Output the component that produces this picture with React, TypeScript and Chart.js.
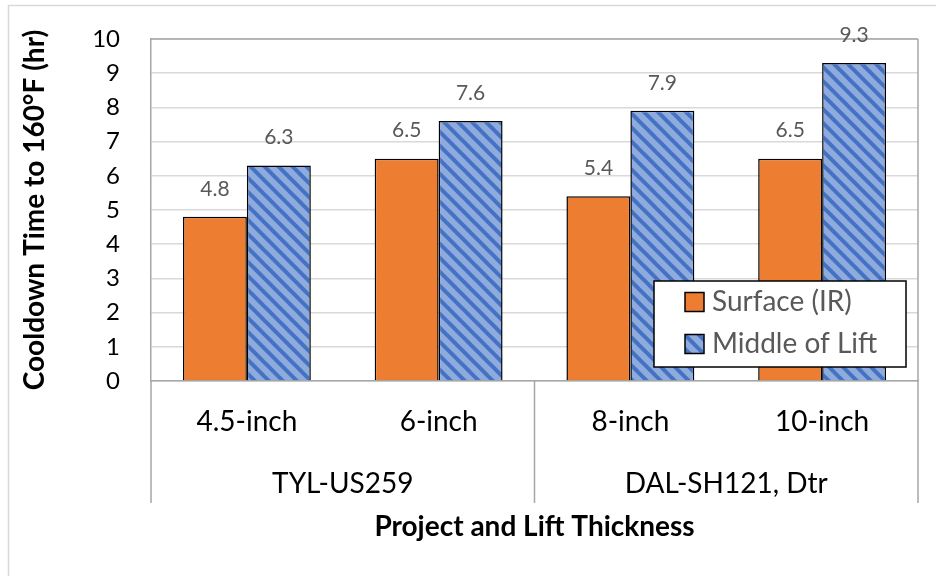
import React, { useEffect, useRef } from "react";
import { Chart, registerables } from "chart.js";

Chart.register(...registerables);

const categories = ["4.5-inch", "6-inch", "8-inch", "10-inch"];
const groups = ["TYL-US259", "DAL-SH121, Dtr"];
const groupSpans = [[0, 1], [2, 3]];
const surfaceValues = [4.8, 6.5, 5.4, 6.5];
const middleValues = [6.3, 7.6, 7.9, 9.3];
const seriesNames = ["Surface (IR)", "Middle of Lift"];
const yTicks = { min: 0, max: 10, step: 1 };

const FONT = "Lato, 'Open Sans', sans-serif";

function makeHatch(): CanvasPattern | string {
  const c = document.createElement("canvas");
  const p = 14;
  c.width = p;
  c.height = p;
  const g = c.getContext("2d");
  if (!g) return "#8FAADC";
  g.fillStyle = "#8FAADC";
  g.fillRect(0, 0, p, p);
  g.strokeStyle = "#4472C4";
  g.lineWidth = 4;
  for (let k = -1; k <= 1; k++) {
    g.beginPath();
    g.moveTo(-3, -3 + k * p);
    g.lineTo(p + 3, p + 3 + k * p);
    g.stroke();
  }
  const pat = g.createPattern(c, "repeat");
  return pat || "#8FAADC";
}

const decorPlugin = {
  id: "decor",
  beforeDraw(chart: any) {
    const ctx = chart.ctx;
    ctx.save();
    ctx.strokeStyle = "#d9d9d9";
    ctx.lineWidth = 1.5;
    ctx.beginPath();
    ctx.moveTo(8.5, 576);
    ctx.lineTo(8.5, 5.5);
    ctx.lineTo(936, 5.5);
    ctx.stroke();
    ctx.restore();
  },
  afterDraw(chart: any) {
    const ctx = chart.ctx;
    const { left, right, top, bottom } = chart.chartArea;
    const xs = chart.scales.x;
    const sepBottom = 503;
    ctx.save();
    ctx.strokeStyle = "#a6a6a6";
    ctx.lineWidth = 1.5;
    ctx.beginPath();
    ctx.moveTo(left, top);
    ctx.lineTo(right, top);
    ctx.moveTo(right, top);
    ctx.lineTo(right, sepBottom);
    ctx.moveTo(left, bottom);
    ctx.lineTo(left, sepBottom);
    for (let i = 0; i < groupSpans.length - 1; i++) {
      const a = xs.getPixelForValue(groupSpans[i][1]);
      const b = xs.getPixelForValue(groupSpans[i + 1][0]);
      const m = (a + b) / 2;
      ctx.moveTo(m, bottom);
      ctx.lineTo(m, sepBottom);
    }
    ctx.stroke();

    ctx.fillStyle = "#000";
    ctx.font = `28px ${FONT}`;
    ctx.textAlign = "center";
    ctx.textBaseline = "middle";
    groups.forEach((g, i) => {
      const a = xs.getPixelForValue(groupSpans[i][0]);
      const b = xs.getPixelForValue(groupSpans[i][1]);
      ctx.fillText(g, (a + b) / 2, 484);
    });

    ctx.fillStyle = "#595959";
    ctx.font = `21px ${FONT}`;
    chart.data.datasets.forEach((ds: any, di: number) => {
      const meta = chart.getDatasetMeta(di);
      meta.data.forEach((el: any, i: number) => {
        ctx.fillText(Number(ds.data[i]).toFixed(1), el.x, el.y - 28);
      });
    });

    const lx = 654, ly = 281, lw = 252, lh = 86;
    ctx.fillStyle = "#fff";
    ctx.fillRect(lx, ly, lw, lh);
    ctx.strokeStyle = "#000";
    ctx.lineWidth = 1.5;
    ctx.strokeRect(lx, ly, lw, lh);
    const rows = [302, 344];
    chart.data.datasets.forEach((ds: any, di: number) => {
      const cy = rows[di];
      ctx.fillStyle = ds.backgroundColor;
      ctx.fillRect(685, cy - 9.5, 19, 19);
      ctx.strokeStyle = "#000";
      ctx.lineWidth = 1.5;
      ctx.strokeRect(685, cy - 9.5, 19, 19);
      ctx.fillStyle = "#595959";
      ctx.font = `28px ${FONT}`;
      ctx.textAlign = "left";
      ctx.textBaseline = "middle";
      ctx.fillText(ds.label, 712, cy);
    });
    ctx.restore();
  },
};

export default function App() {
  const ref = useRef<HTMLCanvasElement>(null);
  useEffect(() => {
    if (!ref.current) return;
    const hatch = makeHatch();
    const chart = new Chart(ref.current, {
      type: "bar",
      data: {
        labels: categories,
        datasets: [
          {
            label: seriesNames[0],
            data: surfaceValues,
            backgroundColor: "#ED7D31",
            borderColor: "#000",
            borderWidth: 1.5,
            categoryPercentage: 0.667,
            barPercentage: 1,
          },
          {
            label: seriesNames[1],
            data: middleValues,
            backgroundColor: hatch as any,
            borderColor: "#000",
            borderWidth: 1.5,
            categoryPercentage: 0.667,
            barPercentage: 1,
          },
        ],
      },
      options: {
        responsive: false,
        animation: false,
        devicePixelRatio: 1,
        layout: { padding: { top: 39, right: 18, left: 0, bottom: 0 } },
        plugins: {
          legend: { display: false },
          tooltip: { enabled: false },
        },
        scales: {
          x: {
            grid: { display: false, drawTicks: false },
            border: { display: true, color: "#a6a6a6", width: 1.5 },
            ticks: {
              font: { family: FONT, size: 28 },
              color: "#000",
              padding: 24,
              maxRotation: 0,
              autoSkip: false,
            },
            title: {
              display: true,
              text: "Project and Lift Thickness",
              font: { family: FONT, size: 28, weight: "bold" },
              color: "#000",
              padding: { top: 0, bottom: 32 },
            },
            afterFit(scale: any) {
              scale.height = 576 - 381;
              scale.paddingLeft = 0;
              scale.paddingRight = 0;
            },
          },
          y: {
            min: yTicks.min,
            max: yTicks.max,
            grid: { color: "#d9d9d9", lineWidth: 1.5, drawTicks: false },
            border: { display: true, color: "#a6a6a6", width: 1.5 },
            ticks: {
              stepSize: yTicks.step,
              font: { family: FONT, size: 24 },
              color: "#000",
              padding: 31,
            },
            title: {
              display: true,
              text: "Cooldown Time to 160°F (hr)",
              font: { family: FONT, size: 28, weight: "bold" },
              color: "#000",
              padding: { top: 18, bottom: 0 },
            },
            afterFit(scale: any) {
              scale.width = 151;
              scale.paddingTop = 0;
              scale.paddingBottom = 0;
            },
          },
        },
      },
      plugins: [decorPlugin],
    });
    return () => chart.destroy();
  }, []);
  return (
    <div style={{ position: "absolute", left: 0, top: 0, width: 936, height: 576, background: "#fff" }}>
      <canvas ref={ref} width={936} height={576} style={{ width: 936, height: 576, display: "block" }} />
    </div>
  );
}
